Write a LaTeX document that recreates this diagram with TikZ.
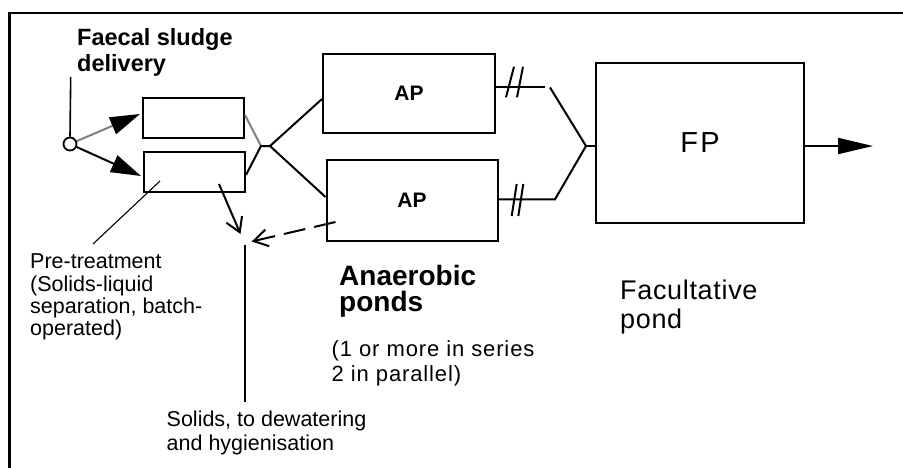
\documentclass[tikz,border=0pt]{standalone}
\usepackage{fontspec}
\setmainfont{Liberation Sans}
\usetikzlibrary{arrows.meta,calc}
\begin{document}
\begin{tikzpicture}[x=1pt,y=-1pt,
  box/.style={draw,line width=2pt,rectangle,inner sep=0pt},
  wire/.style={line width=2pt},
  thinwire/.style={line width=1.1pt},
  graywire/.style={line width=2pt,draw={rgb,255:red,128;green,128;blue,128}},
  bigtip/.style={-{Triangle[length=30pt,width=18pt,black]}},
  barbtip/.style={-{Straight Barb[length=14pt,width=17pt,line width=2pt]}},
  lbl/.style={inner sep=0pt,anchor=base west,align=left},
  slash/.style={line width=2pt}
]
\useasboundingbox (0,0) rectangle (903,467);
% frame
\draw[line width=2.4pt] (9.5,470) -- (9.5,13) -- (906,13);

% nodes
\node[draw,circle,minimum size=13pt,inner sep=0pt,line width=1.8pt] (circ) at (70,144) {};
\node[box,minimum width=101pt,minimum height=40pt] (pre1) at (193.5,118) {};
\node[box,minimum width=101pt,minimum height=40pt] (pre2) at (194.5,172) {};
\node[box,minimum width=172pt,minimum height=79pt,font=\bfseries\fontsize{21}{24}\selectfont] (ap1) at (409,93.5) {AP};
\node[box,minimum width=171pt,minimum height=81pt,font=\bfseries\fontsize{21}{24}\selectfont] (ap2) at (412,200.5) {AP};
\node[box,minimum width=208pt,minimum height=160pt,font=\fontsize{29}{32}\selectfont\addfontfeature{LetterSpace=8}] (fp) at (700,143) {FP};

% junction coordinates
\coordinate (j1) at (261,146);
\coordinate (j1b) at (270,146);
\coordinate (c1) at (544.5,87);
\coordinate (c1b) at (550,87.5);
\coordinate (c2) at (555,199.3);
\coordinate (j2) at (586,146);
\coordinate (out) at (873,146);
\coordinate (soltipA) at (240.5,234);
\coordinate (soltipB) at (251.7,241.5);
\coordinate (soltop) at (245,245);
\coordinate (solbot) at (245,402);
\coordinate (pretop) at (93,244);
\coordinate (deltop) at (70.7,77);

% inflow arrows
\draw[graywire,bigtip] (circ) -- ($(pre1.west)+(-2,-4)$);
\draw[wire,bigtip] (circ) -- ($(pre2.west)+(-2,4)$);
\draw[line width=1.6pt] (circ.north) -- (deltop);

% pre-treatment to junction
\draw[graywire] ($(pre1.east)+(0,-3)$) -- (j1);
\draw[wire] ($(pre2.east)+(0,3)$) -- (j1) -- (j1b);
\draw[wire] (j1b) -- ($(ap1.west)+(0,5.5)$);
\draw[wire] (j1b) -- ($(ap2.west)+(0,-3.5)$);

% AP outflows
\draw[wire] ($(ap1.east)+(0,-6.5)$) -- (c1);
\draw[wire] (c1b) -- (j2);
\draw[wire] ($(ap2.east)+(0,-1.2)$) -- (c2) -- (j2);
\draw[wire] (j2) -- (fp.west |- j2);
\draw[slash] (506,97.3) -- (514,66.7);
\draw[slash] (517,97.3) -- (523,66.7);
\draw[slash] (511.7,216) -- (516.7,184);
\draw[slash] (518.3,216) -- (523.3,184);

% FP outflow
\draw[wire,-{Triangle[length=35pt,width=16pt]}] (fp.east |- j2) -- (out);

% solids
\draw[wire,barbtip] ($(pre2.south east)+(-27,-9)$) -- (soltipA);
\draw[wire,barbtip,dash pattern=on 22pt off 9pt] ($(ap2.south west)+(10,-20)$) -- (soltipB);
\draw[thinwire] (soltop) -- (solbot);
\draw[thinwire] (pretop) -- ($(pre2.south west)+(17,-12)$);

% labels (anchor = baseline of last line)
\node[lbl,font=\bfseries\fontsize{23.5}{26}\selectfont] (deliv) at (77,71) {Faecal sludge\\delivery};
\node[lbl,font=\fontsize{21.5}{22.2}\selectfont] (pretxt) at (30,335.5) {Pre-treatment\\(Solids-liquid\\separation, batch-\\operated)};
\node[lbl,font=\fontsize{21.5}{23.3}\selectfont] (soltxt) at (166.5,450) {Solids, to dewatering\\and hygienisation};
\node[lbl,font=\bfseries\fontsize{28}{26.5}\selectfont] (antxt) at (339,311.5) {Anaerobic\\ponds};
\node[lbl,font=\fontsize{22}{25.7}\selectfont\addfontfeature{LetterSpace=4}] (partxt) at (331.5,381.7) {(1 or more in series\\2 in parallel)};
\node[lbl,font=\fontsize{27}{29}\selectfont\addfontfeature{LetterSpace=2.5}] (factxt) at (620,328.3) {Facultative\\pond};
\end{tikzpicture}
\end{document}
